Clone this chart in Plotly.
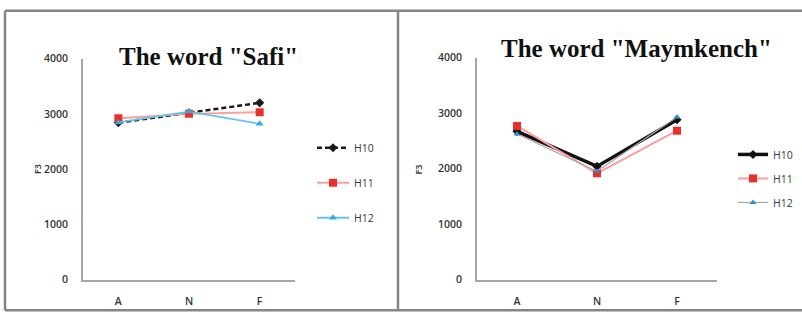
import plotly.graph_objects as go

# Positions along the word (Anlaut, Nucleus, Final) and the three speakers
categories = ["A", "N", "F"]
speakers = ["H10", "H11", "H12"]

# F3 values (Hz) for the word "Safi"
safi_h10 = [2840, 3020, 3200]
safi_h11 = [2920, 3000, 3030]
safi_h12 = [2845, 3042, 2820]

# F3 values (Hz) for the word "Maymkench"
maym_h10 = [2672, 2040, 2880]
maym_h11 = [2770, 1915, 2685]
maym_h12 = [2625, 1953, 2930]

y_ticks = [0, 1000, 2000, 3000, 4000]

W, H = 802, 321


def px(x):
    return x / W


def py(y):
    return 1 - y / H


fig = go.Figure()

# Left panel traces
fig.add_trace(go.Scatter(
    x=categories, y=safi_h10, name=speakers[0], mode="lines+markers",
    line=dict(color="#1a1a1a", width=2.5, dash="5px,3px"),
    marker=dict(symbol="diamond", size=7, color="#1a1a1a"),
    xaxis="x", yaxis="y", legend="legend", legendgroup="a1"))
fig.add_trace(go.Scatter(
    x=categories, y=safi_h11, name=speakers[1], mode="lines+markers",
    line=dict(color="#ff9c9c", width=2),
    marker=dict(symbol="square", size=8, color="#e8302a"),
    xaxis="x", yaxis="y", legend="legend", legendgroup="a2"))
fig.add_trace(go.Scatter(
    x=categories, y=safi_h12, name=speakers[2], mode="lines+markers",
    line=dict(color="#62c4ec", width=1.8),
    marker=dict(symbol="triangle-up", size=7, color="#3aa6dc"),
    xaxis="x", yaxis="y", legend="legend", legendgroup="a3"))

# Right panel traces
fig.add_trace(go.Scatter(
    x=categories, y=maym_h10, name=speakers[0], mode="lines+markers",
    line=dict(color="#111111", width=3.5),
    marker=dict(symbol="diamond", size=7, color="#111111"),
    xaxis="x2", yaxis="y2", legend="legend2", legendgroup="b1"))
fig.add_trace(go.Scatter(
    x=categories, y=maym_h11, name=speakers[1], mode="lines+markers",
    line=dict(color="#ff9c9c", width=2),
    marker=dict(symbol="square", size=8, color="#e8302a"),
    xaxis="x2", yaxis="y2", legend="legend2", legendgroup="b2"))
fig.add_trace(go.Scatter(
    x=categories, y=maym_h12, name=speakers[2], mode="lines+markers",
    line=dict(color="#a8a8a8", width=1.2),
    marker=dict(symbol="triangle-up", size=6, color="#2a8fd0"),
    xaxis="x2", yaxis="y2", legend="legend2", legendgroup="b3"))

tick_font = dict(family="Open Sans", size=10.5, color="#333333", weight=600)
axis_line = dict(showline=True, linecolor="#a6a6a6", linewidth=2,
                 showgrid=False, zeroline=False, ticks="",
                 tickfont=tick_font)
legend_font = dict(family="Open Sans", size=10.5, color="#3a3a3a")

fig.update_layout(
    width=W, height=H,
    margin=dict(l=0, r=0, t=0, b=0),
    paper_bgcolor="white", plot_bgcolor="white",
    xaxis=dict(domain=[px(83), px(295)], type="category",
               range=[-0.5, 2.5], ticklabelstandoff=11, anchor="y", **axis_line),
    yaxis=dict(domain=[py(285), py(54)], range=[0, 4000],
               tickvals=y_ticks, ticklabelstandoff=11, anchor="x", **axis_line),
    xaxis2=dict(domain=[px(477), px(717)], type="category",
                range=[-0.5, 2.5], ticklabelstandoff=11, anchor="y2", **axis_line),
    yaxis2=dict(domain=[py(285), py(53)], range=[0, 4000],
                tickvals=y_ticks, ticklabelstandoff=11, anchor="x2", **axis_line),
    legend=dict(x=px(312), y=py(132), xanchor="left", yanchor="top",
                font=legend_font,
                bgcolor="rgba(0,0,0,0)", tracegroupgap=16, itemwidth=32),
    legend2=dict(x=px(733), y=py(139), xanchor="left", yanchor="top",
                 font=legend_font,
                 bgcolor="rgba(0,0,0,0)", tracegroupgap=5, itemwidth=30),
    showlegend=True,
)

title_font = dict(family="Liberation Serif", size=25, color="#111111")
fig.add_annotation(text='<b>The word "Safi"</b>', x=px(209), y=py(52),
                   xref="paper", yref="paper", showarrow=False,
                   font=title_font, xanchor="center", yanchor="middle")
fig.add_annotation(text='<b>The word "Maymkench"</b>', x=px(636), y=py(43),
                   xref="paper", yref="paper", showarrow=False,
                   font=title_font, xanchor="center", yanchor="middle")

for xc in (29, 419):
    fig.add_annotation(text="F3", x=px(xc), y=py(170), xref="paper", yref="paper",
                       showarrow=False, textangle=-90,
                       font=dict(family="Open Sans", size=9, color="#333333", weight=600))

# Panel frames
frame = dict(type="line", xref="paper", yref="paper",
             line=dict(color="#858585", width=2.5))
fig.add_shape(x0=px(5), x1=1, y0=py(4), y1=py(4), **frame)
fig.add_shape(x0=px(5), x1=1, y0=py(317), y1=py(317), **frame)
fig.add_shape(x0=px(5), x1=px(5), y0=py(4), y1=py(317), **frame)
fig.add_shape(x0=px(398), x1=px(398), y0=py(4), y1=py(317), **frame)

fig.write_html("out.html")
